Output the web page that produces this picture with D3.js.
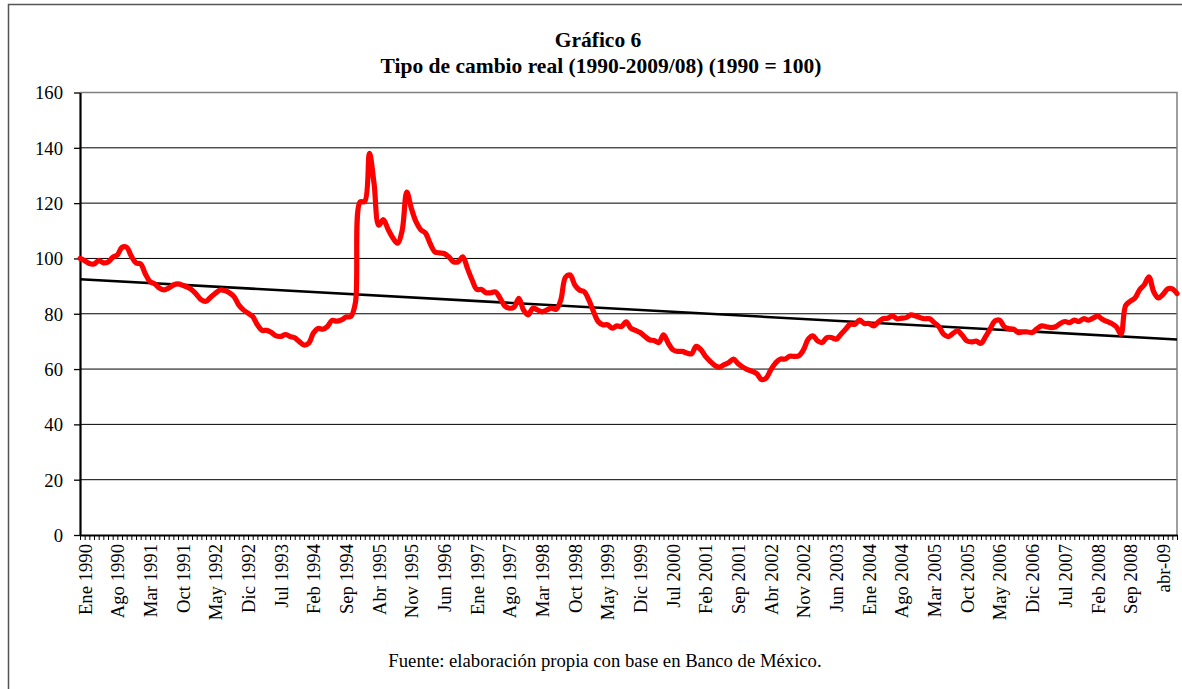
<!DOCTYPE html>
<html><head><meta charset="utf-8">
<script src="https://cdn.jsdelivr.net/npm/d3@7"></script>
<style>body{margin:0;background:#fff}</style>
</head><body><svg id="c" width="1182" height="689"></svg>
<script>
const titleLines = ["Gráfico 6", "Tipo de cambio real (1990-2009/08) (1990 = 100)"];
const sourceNote = "Fuente: elaboración propia con base en Banco de México.";
const tickLabels = ["Ene 1990","Ago 1990","Mar 1991","Oct 1991","May 1992","Dic 1992","Jul 1993","Feb 1994","Sep 1994","Abr 1995","Nov 1995","Jun 1996","Ene 1997","Ago 1997","Mar 1998","Oct 1998","May 1999","Dic 1999","Jul 2000","Feb 2001","Sep 2001","Abr 2002","Nov 2002","Jun 2003","Ene 2004","Ago 2004","Mar 2005","Oct 2005","May 2006","Dic 2006","Jul 2007","Feb 2008","Sep 2008","abr-09"];
const labelEvery = 7;
const yTicks = [0, 20, 40, 60, 80, 100, 120, 140, 160];
// Monthly real exchange rate index, Jan 1990 .. Aug 2009
const values = [
 100, 99.2, 98.2, 98, 99.2, 98.4, 98.7, 100.4, 101.3, 104, 104, 100.8,
 98.4, 98, 94.4, 91.6, 90.8, 89.3, 88.6, 89.3, 90.4, 90.8, 90.3, 89.6,
 88.6, 86.9, 85, 84.5, 86, 87.4, 88.6, 88.4, 87.6, 86.2, 83.2, 81.4,
 80.2, 79, 76, 74, 74, 73.2, 72, 71.8, 72.5, 71.8, 71.3, 69.9,
 68.7, 69.4, 73, 74.7, 74.4, 75.4, 77.6, 77.3, 77.8, 78.8, 79, 84,
 120.4, 120.6, 138, 127, 112, 114, 110.5, 107.5, 105.5, 110, 124, 118,
 113.2, 110.4, 109.2, 105.4, 102.4, 102, 101.8, 100.6, 98.8, 98.8, 100.6, 96.4,
 92.2, 88.8, 88.8, 87.6, 87.6, 87.9, 85.6, 82.8, 82, 82.4, 85.6, 81.4,
 79.6, 82, 81.4, 80.7, 81.4, 82, 81.6, 85, 93.2, 94, 90.4, 88.6,
 88, 85, 80.8, 77.2, 76, 76, 74.8, 75.6, 75.4, 77.1, 74.8, 74,
 73.2, 71.8, 70.6, 70.3, 69.6, 72.4, 69.4, 67, 66.4, 66.4, 65.8, 65.5,
 68.2, 67, 64.6, 62.8, 61.3, 60.7, 61.6, 62.4, 63.6, 61.9, 60.7, 59.8,
 59.2, 58.3, 56.2, 56.8, 59.8, 62.2, 63.6, 63.6, 64.6, 64.6, 64.8, 67,
 70.8, 72, 70.2, 69.6, 71.4, 71.4, 70.8, 72.6, 74.4, 76.2, 76.2, 77.7,
 76.5, 76.5, 75.6, 77, 78.2, 78.4, 79.2, 78.2, 78.4, 78.6, 79.6, 79.2,
 78.6, 78.2, 78.2, 76.8, 75.3, 72.6, 71.7, 72.9, 73.8, 72.2, 70.2, 69.8,
 70.1, 69.3, 71.7, 74.6, 77.4, 77.7, 75.3, 74.6, 74.4, 73.2, 73.4, 73.4,
 73.2, 74.6, 75.6, 75.3, 75, 75.3, 76.5, 77.2, 76.8, 77.7, 77.2, 78.2,
 77.7, 78.4, 79.2, 78, 77.2, 76.5, 75.3, 72.6, 83, 84.5, 85.7, 88.7,
 90.5, 93.3, 88, 85.7, 87, 89, 89, 87.3
];

const FONT = "'Liberation Serif', Tinos, 'Times New Roman', 'DejaVu Serif', serif";
const svg = d3.select("#c");
const L = 80, R = 1177, T = 92.5, B = 535;
const idx = d3.range(values.length);
const x = d3.scaleLinear().domain([0, values.length - 1]).range([L, R]);
const y = d3.scaleLinear().domain([0, 160]).range([B, T]);

// outer frame
svg.append("rect").attr("x", 8.5).attr("y", 4.5).attr("width", 1200).attr("height", 720)
  .attr("fill", "none").attr("stroke", "#555").attr("stroke-width", 1.5);

// gridlines
svg.append("g").selectAll("line").data(yTicks.filter(t => t > 0)).join("line")
  .attr("x1", L).attr("x2", R).attr("y1", d => y(d)).attr("y2", d => y(d))
  .attr("stroke", "#000").attr("stroke-width", 1);
// plot area border (top/right)
svg.append("path").attr("d", `M${L},${y(160)}H${R}V${B}`).attr("fill", "none")
  .attr("stroke", "#7f7f7f").attr("stroke-width", 1.5);

// y axis
const ya = svg.append("g").attr("transform", `translate(${L},0)`)
  .call(d3.axisLeft(y).tickValues(yTicks).tickSize(6).tickPadding(11).tickSizeOuter(0))
  .attr("font-family", null).attr("font-size", null);
ya.select(".domain").attr("stroke", "#000").attr("stroke-width", 2.2);
ya.selectAll(".tick line").attr("stroke", "#000").attr("stroke-width", 1.3);
ya.selectAll("text").style("font-family", FONT).style("font-size", "18.7px").attr("dy", "0.34em").attr("fill", "#000");

// x axis
const xa = svg.append("g").attr("transform", `translate(0,${B})`)
  .call(d3.axisBottom(x).tickValues(idx).tickSize(5).tickFormat("").tickSizeOuter(0));
xa.select(".domain").attr("stroke", "#000").attr("stroke-width", 2.2);
xa.selectAll(".tick line").attr("stroke", "#000").attr("stroke-width", 1);

svg.append("g").selectAll("text").data(tickLabels).join("text")
  .attr("transform", (d, k) => `translate(${x(k * labelEvery) + 5},544) rotate(-90)`)
  .attr("text-anchor", "end").attr("dy", "0.35em")
  .style("font-family", FONT).style("font-size", "18.7px").text(d => d);

// trend (least squares)
const mx = d3.mean(idx), my = d3.mean(values);
const slope = d3.sum(idx, i => (i - mx) * (values[i] - my)) / d3.sum(idx, i => (i - mx) ** 2);
const icpt = my - slope * mx;
svg.append("line").attr("x1", x(0)).attr("x2", x(values.length - 1))
  .attr("y1", y(icpt)).attr("y2", y(icpt + slope * (values.length - 1)))
  .attr("stroke", "#000").attr("stroke-width", 2.6);

// series
svg.append("path").datum(values)
  .attr("d", d3.line().x((d, i) => x(i)).y(d => y(d)).curve(d3.curveCatmullRom.alpha(0.5)))
  .attr("fill", "none").attr("stroke", "#ff0000").attr("stroke-width", 5.2)
  .attr("stroke-linejoin", "round").attr("stroke-linecap", "round");

// titles
svg.append("text").attr("x", 598).attr("y", 47).attr("text-anchor", "middle")
  .style("font-family", FONT).style("font-size", "21.5px").style("font-weight", "bold").text(titleLines[0]);
svg.append("text").attr("x", 601).attr("y", 73).attr("text-anchor", "middle")
  .style("font-family", FONT).style("font-size", "21.5px").style("font-weight", "bold").text(titleLines[1]);
svg.append("text").attr("x", 605).attr("y", 667).attr("text-anchor", "middle")
  .style("font-family", FONT).style("font-size", "18.7px").text(sourceNote);
</script></body></html>
